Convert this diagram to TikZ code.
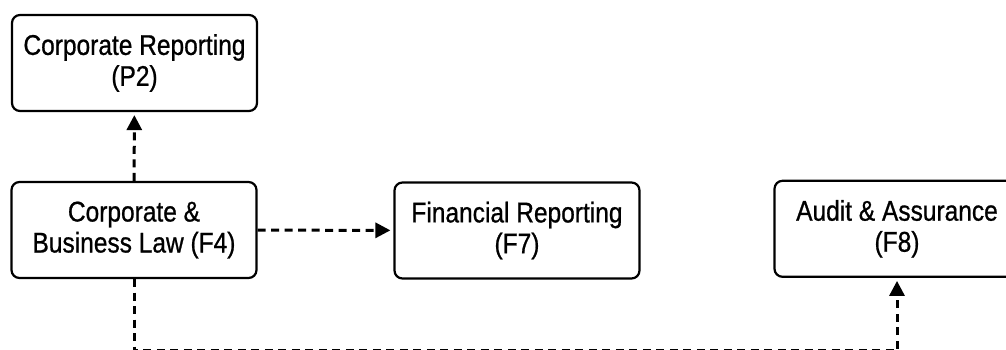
\documentclass[tikz,border=0pt]{standalone}
\usepackage{fontspec}
\setmainfont[FakeStretch=0.86,FakeBold=0.8]{Liberation Sans}
\usetikzlibrary{arrows.meta,positioning}

\begin{document}
\begin{tikzpicture}[x=0.5pt,y=-0.5pt,>={Triangle[length=7.5pt,width=7.5pt]},thin]
\tikzstyle{course}=[draw,line width=1.1pt,rounded corners=4pt,minimum width=122.5pt,minimum height=48pt,inner sep=0pt,align=center,font=\fontsize{14.25}{15.5}\selectfont]
\tikzstyle{link}=[->,line width=1.5pt,dash pattern=on 4pt off 2.75pt,shorten >=1.5pt]

\useasboundingbox (0,0) rectangle (1006,349);

\node[course]		(P2) at (134.5,63)   {Corporate Reporting\\(P2)};
\node[course]		(F4) at (134,230)    {Corporate \&\\Business Law (F4)};
\node[course]		(F7) at (517,230.5)  {Financial Reporting\\(F7)};
\node[course]		(F8) at (897,228.8)  {Audit \& Assurance\\(F8)};
\coordinate		(low) at (0,350.8);

\path[link]
(F4) edge (P2)
(F4) edge (F7)
;
\draw[link] (F4.south) -- (F4.south |- low) -- (F8.south |- low) -- (F8.south);
    \end{tikzpicture}
\end{document}
